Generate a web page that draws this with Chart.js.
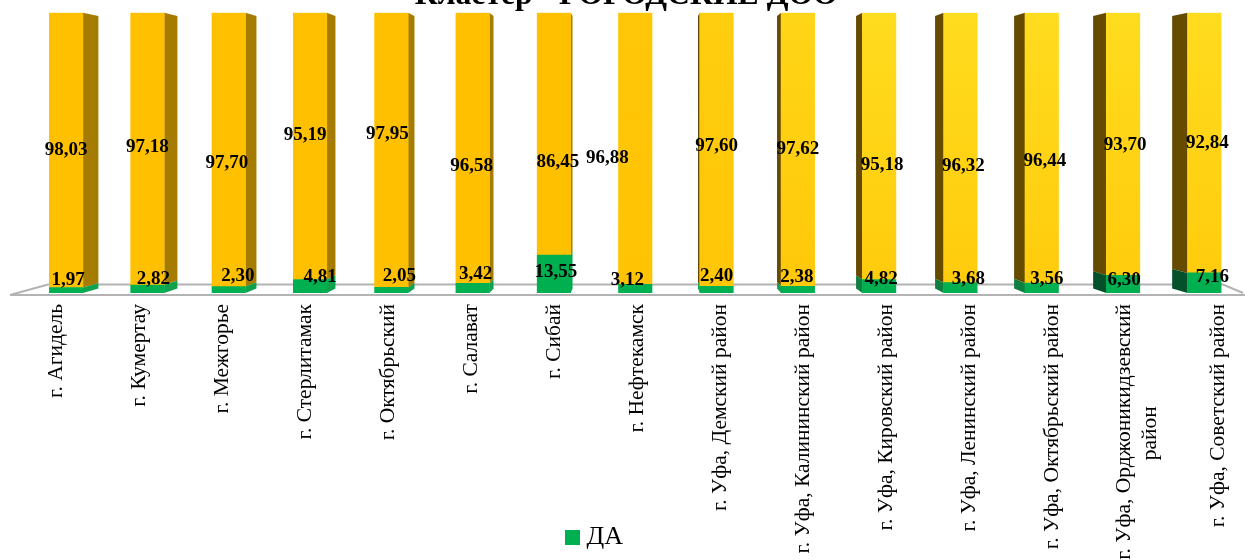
<!DOCTYPE html>
<html>
<head>
<meta charset="utf-8">
<title>Кластер - ГОРОДСКИЕ ДОО</title>
<script src="https://cdn.jsdelivr.net/npm/chart.js@4/dist/chart.umd.min.js"></script>
<style>
    html, body { margin: 0; padding: 0; background: #fff; overflow: hidden; }
    #wrap { position: relative; width: 1245px; height: 560px; }
</style>
</head>
<body>
<div id="wrap"><canvas id="chart"></canvas></div>
<script>
var categories = [
    "г. Агидель", "г. Кумертау", "г. Межгорье", "г. Стерлитамак", "г. Октябрьский",
    "г. Салават", "г. Сибай", "г. Нефтекамск", "г. Уфа, Демский район",
    "г. Уфа, Калининский район", "г. Уфа, Кировский район", "г. Уфа, Ленинский район",
    "г. Уфа, Октябрьский район",
    ["г. Уфа, Орджоникидзевский", "район" + "\u00a0".repeat(19)],
    "г. Уфа, Советский район"
];
var yesValues = [1.97, 2.82, 2.30, 4.81, 2.05, 3.42, 13.55, 3.12, 2.40, 2.38, 4.82, 3.68, 3.56, 6.30, 7.16];
var noValues = [98.03, 97.18, 97.70, 95.19, 97.95, 96.58, 86.45, 96.88, 97.60, 97.62, 95.18, 96.32, 96.44, 93.70, 92.84];

// the labels were dragged around by hand in the original, [dx, dy] from the segment centre
var yesLabelShift = [[2,-10],[6,-10],[9,-14],[10,-9],[8,-14],[3,-14],[2,-2],[-8,-9],[0,-14],[-1,-13],[2,-7],[8,-9],[5,-9],[1,-4],[8,-6]];
var noLabelShift = [[0,0],[0,-2],[-2,13],[-5,-11],[-4,-16],[-1,18],[4,28],[-28,10],[0,-3],[0,0],[3,19],[3,18],[3,13],[2,1],[3,0]];

var serif = "'Liberation Serif'";
var depth = 0.028;
var vanishX = 636;
var vanishY = 133;

function fmt(v) {
    return v.toFixed(2).replace(".", ",");
}

function far(x, y) {
    return [x + (vanishX - x) * depth, y + (vanishY - y) * depth];
}

function yesSide(i) {
    if (i >= 13) return "#04502a";
    if (i >= 10) return "#0f7f40";
    return "#0ea24c";
}

function noSide(i) {
    return i < 8 ? "#a67c00" : "#654b00";
}

// yellow gets lighter towards the right hand bars
function noFill(c) {
    var i = c.dataIndex;
    var area = c.chart.chartArea;
    if (i < 7 || !area) return "#ffc000";
    var t = Math.min((i - 6) / 4, 1);
    var g = c.chart.ctx.createLinearGradient(0, area.top, 0, area.bottom);
    g.addColorStop(0, "rgb(255," + Math.round(192 + 28 * t) + "," + Math.round(30 * t) + ")");
    g.addColorStop(1, "rgb(255," + Math.round(192 + 11 * t) + "," + Math.round(12 * t) + ")");
    return g;
}

// legend marker as a small canvas, so the text can sit closer than the library's usual gap
var legendMark = document.createElement("canvas");
legendMark.width = 15;
legendMark.height = 15;
var markCtx = legendMark.getContext("2d");
markCtx.fillStyle = "#00b050";
markCtx.fillRect(0, 0, 15, 15);

// labels sit a little wider than the bars, same as the perspective in the original
class SpreadScale extends Chart.CategoryScale {
    getPixelForTick(index) {
        var p = super.getPixelForTick(index);
        var wrapped = Array.isArray(categories[index]) ? -11 : 0;
        return p + (p - vanishX) * 0.021 + 2 + wrapped;
    }
}
SpreadScale.id = "spread";
SpreadScale.defaults = Chart.CategoryScale.defaults;
Chart.register(SpreadScale);

var floorPlugin = {
    id: "floor",
    beforeDatasetsDraw: function (chart) {
        var ctx = chart.ctx;
        var y = chart.scales.x.top;
        ctx.save();
        ctx.strokeStyle = "#b3b3b3";
        ctx.lineWidth = 2;
        ctx.beginPath();
        ctx.moveTo(10, y + 2);
        ctx.lineTo(1245, y + 2);
        ctx.moveTo(10, y + 2);
        ctx.lineTo(48, y - 8.5);
        ctx.lineTo(1223, y - 8.5);
        ctx.lineTo(1243, y);
        ctx.stroke();
        ctx.restore();
    }
};

var sidePlugin = {
    id: "sides",
    beforeDatasetsDraw: function (chart) {
        var ctx = chart.ctx;
        ctx.save();
        [1, 0].forEach(function (d) {
            chart.getDatasetMeta(d).data.forEach(function (bar, i) {
                var half = bar.width / 2;
                var edge = bar.x < vanishX ? bar.x + half : bar.x - half;
                var a = far(edge, bar.y);
                var b = far(edge, bar.base);
                ctx.fillStyle = d === 0 ? yesSide(i) : noSide(i);
                ctx.beginPath();
                ctx.moveTo(edge, bar.y);
                ctx.lineTo(a[0], a[1]);
                ctx.lineTo(b[0], b[1]);
                ctx.lineTo(edge, bar.base);
                ctx.closePath();
                ctx.fill();
            });
        });
        ctx.restore();
    }
};

var valuePlugin = {
    id: "values",
    afterDatasetsDraw: function (chart) {
        var ctx = chart.ctx;
        ctx.save();
        ctx.font = "bold 19px " + serif;
        ctx.fillStyle = "#000";
        ctx.textAlign = "center";
        ctx.textBaseline = "middle";
        [0, 1].forEach(function (d) {
            var values = d === 0 ? yesValues : noValues;
            var shift = d === 0 ? yesLabelShift : noLabelShift;
            chart.getDatasetMeta(d).data.forEach(function (bar, i) {
                ctx.fillText(fmt(values[i]), bar.x + shift[i][0], (bar.y + bar.base) / 2 + shift[i][1]);
            });
        });
        ctx.restore();
    }
};

// title and legend are off centre in the original and the long labels run off the page
var layoutFix = {
    id: "layoutFix",
    afterLayout: function (chart) {
        chart.titleBlock.left -= 9;
        chart.titleBlock.right -= 9;
        chart.legend.left -= 37.5;
        chart.legend.right -= 37.5;
        chart.scales.x.bottom = chart.height;
    }
};

new Chart(document.getElementById("chart"), {
    type: "bar",
    data: {
        labels: categories,
        datasets: [
            { label: "ДА", data: yesValues, backgroundColor: "#00b050", barThickness: 33.5 },
            { label: "НЕТ", data: noValues, backgroundColor: noFill, barThickness: 33.5 }
        ]
    },
    options: {
        responsive: true,
        maintainAspectRatio: false,
        animation: false,
        layout: { padding: { left: 25.5, right: 0, top: 0, bottom: 0 } },
        plugins: {
            title: {
                display: true,
                text: "Кластер - ГОРОДСКИЕ ДОО",
                color: "#000",
                font: { family: serif, size: 31.7, weight: "bold" },
                padding: { top: -23, bottom: -2.4 }
            },
            legend: {
                position: "bottom",
                labels: {
                    filter: function (item) { return item.datasetIndex === 0; },
                    color: "#000",
                    usePointStyle: true,
                    pointStyle: legendMark,
                    pointStyleWidth: 1,
                    boxHeight: 15,
                    font: { family: serif, size: 26 },
                    padding: 8
                }
            },
            tooltip: { enabled: false }
        },
        scales: {
            x: {
                type: "spread",
                stacked: true,
                grid: { display: false, drawTicks: false },
                border: { display: false },
                afterFit: function (scale) {
                    scale.height = 223;
                    scale.paddingLeft = 0;
                    scale.paddingRight = 0;
                },
                ticks: {
                    autoSkip: false,
                    minRotation: 90,
                    maxRotation: 90,
                    padding: 11,
                    color: "#000",
                    font: { family: serif, size: 21.5 }
                }
            },
            y: {
                stacked: true,
                display: false,
                min: 0,
                max: 100
            }
        }
    },
    plugins: [floorPlugin, sidePlugin, valuePlugin, layoutFix]
});
</script>
</body>
</html>
